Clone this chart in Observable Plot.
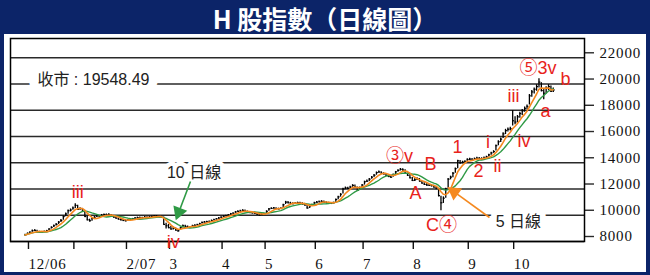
<!DOCTYPE html>
<html><head><meta charset="utf-8">
<script src="https://cdn.jsdelivr.net/npm/d3@7"></script>
<script src="https://cdn.jsdelivr.net/npm/@observablehq/plot@0.6"></script>
<style>
html,body{margin:0;padding:0;background:#0c2468;}
#wrap{width:650px;height:275px;background:#0c2468;position:relative;overflow:hidden;}
#title{height:34px;line-height:34px;text-align:center;color:#fff;font:bold 25px "Noto Sans CJK TC","Noto Sans CJK SC",sans-serif;}
#chart{position:absolute;left:4px;top:34px;width:642px;height:238px;background:#fff;}
</style></head><body>
<div id="wrap"><div id="title">H 股指數（日線圖）</div><div id="chart"></div></div>
<script>
// Daily H-share index bars, 30 Nov 2006 (day -1) to 26 Oct 2007 (day 220); day 0 = 1 Dec 2006
const firstDay = -1;
const close = [
 8500,
 8620,8700,8820,8850,8760,8700,8730,8760,8820,8950,9080,9200,9300,9480,9600,9900,10100,10350,10400,
 10550,10750,10450,10500,10300,9900,9650,9580,9750,9850,9950,9900,10000,10050,10020,10060,9950,9850,9780,9700,9650,9600,
 9580,9620,9680,9720,9780,9820,9800,9810,9850,9830,9860,9900,9950,9920,9880,9850,9300,9200,
 9050,8950,9000,8870,8820,9050,9200,9150,9080,9100,9200,9230,9280,9350,9450,9480,9500,9530,9600,9650,9720,9780,
 9850,9930,9950,10020,10100,10150,10250,10290,10320,10370,10300,10230,10200,10180,10150,10080,10020,10060,
 10120,10300,10480,10520,10550,10500,10480,10520,10800,11000,10950,10900,10880,10920,10950,10920,10850,10780,10550,10650,10800,
 10950,11000,11020,11060,11000,10950,10930,10900,10950,11200,11400,11600,12000,12080,12050,12150,12270,12150,11900,12100,
 12300,12550,12600,12750,12900,13050,13250,13300,13200,13150,13050,12950,12900,13100,13300,13420,13500,13450,13200,13050,12850,
 12650,12700,12780,12600,12450,12350,12300,12280,12250,12150,12100,11500,10950,11300,12000,12750,12900,13200,13550,14150,14000,14050,14100,
 14250,14280,14200,14300,14350,14320,14300,14380,14450,14600,14750,14850,15300,15600,15800,16200,16450,16550,16600,
 17200,17100,17500,17750,17950,18150,18300,19100,19400,19600,19800,20150,19500,19300,19700,19800,19450,19548.49
];
const high = [
 8560,
 8650,8740,8880,8900,8860,8780,8770,8800,8850,8980,9120,9260,9380,9520,9680,9950,10180,10400,10480,
 10620,10880,10760,10580,10520,10300,9920,9700,9800,9900,10000,9990,10060,10100,10090,10110,10060,9960,9880,9800,9740,9690,
 9660,9680,9720,9760,9820,9860,9870,9850,9900,9890,9910,9940,9990,9980,9950,9920,9860,9400,
 9300,9150,9080,9020,8920,9100,9250,9230,9180,9150,9240,9280,9320,9390,9480,9530,9550,9570,9640,9700,9760,9820,
 9890,9960,10000,10060,10140,10200,10290,10340,10380,10420,10400,10320,10280,10240,10230,10180,10100,10110,
 10160,10340,10520,10580,10600,10580,10540,10570,10840,11060,11040,10990,10950,10970,11000,10990,10950,10880,10800,10700,10840,
 10990,11050,11080,11110,11080,11030,10990,10970,11000,11240,11450,11650,12060,12150,12140,12210,12330,12300,12160,12150,
 12350,12600,12680,12800,12960,13100,13300,13380,13320,13240,13170,13080,12990,13150,13340,13470,13560,13540,13460,13220,13080,
 12880,12780,12850,12800,12620,12480,12400,12350,12330,12290,12200,12050,11450,11400,12050,12800,12980,13250,13600,14200,14180,14120,14160,
 14300,14350,14320,14360,14420,14400,14380,14430,14500,14650,14800,14920,15360,15680,15880,16280,16550,16650,16700,
 17990,17500,17600,17850,18050,18250,18400,19200,19500,19700,19950,20400,20100,19600,19800,19950,19850,19700
];
const low = [
 8420,
 8480,8600,8700,8780,8720,8660,8650,8690,8740,8820,8950,9070,9180,9300,9450,9620,9880,10080,10250,
 10380,10520,10400,10380,10250,9850,9580,9480,9550,9700,9820,9850,9880,9960,9970,9980,9900,9800,9720,9650,9580,9540,
 9500,9540,9590,9640,9690,9740,9750,9740,9790,9780,9800,9830,9870,9860,9830,9790,9250,8950,
 8980,8880,8880,8800,8700,8850,9020,9080,9030,9020,9090,9160,9200,9260,9340,9410,9430,9460,9510,9580,9640,9700,
 9760,9840,9880,9930,10010,10080,10150,10220,10250,10280,10250,10180,10140,10100,10090,10020,9950,9980,
 10030,10140,10300,10440,10470,10440,10420,10440,10540,10820,10880,10840,10810,10840,10870,10860,10790,10700,10480,10520,10660,
 10820,10920,10960,10980,10940,10890,10860,10840,10870,10960,11180,11380,11620,11950,11970,12030,12130,12080,11820,11900,
 12100,12300,12500,12580,12740,12880,13050,13200,13140,13080,12980,12880,12820,12900,13100,13280,13380,13360,13140,12960,12780,
 12580,12580,12650,12540,12380,12280,12220,12200,12160,12080,11950,11400,10350,10900,11300,12050,12700,12850,13200,13550,13880,13920,13980,
 14080,14180,14120,14180,14250,14240,14210,14270,14330,14440,14580,14720,14900,15300,15550,15850,16150,16350,16420,
 16800,16900,17050,17400,17600,17850,18050,18400,19000,19250,19450,19700,19400,18800,19250,19500,19350,19350
];

// Axis ticks: first trading day of each month (day index) and labels
const monthTicks  = [0, 19, 41, 59, 81, 99, 120, 140, 161, 184, 203];
const monthLabels = ["12/06", "", "2/07", "3", "4", "5", "6", "7", "8", "9", "10"];
const yTicks = [8000, 10000, 12000, 14000, 16000, 18000, 20000, 22000];

// Elliott-wave labels (red)
const waveLabels  = ["iii", "iv", "③v", "A", "B", "C④", "1", "2", "i", "ii", "iii", "iv", "⑤3v", "a", "b"];
const waveAtDay   = [21, 61, 155.6, 162.3, 168.6, 173.2, 179.9, 188.7, 192.7, 196.7, 203.3, 207.7, 213.6, 216.7, 225.1];
const waveAtLevel = [11730, 7960, 14520, 11660, 13870, 9260, 15160, 13330, 15580, 13720, 19050, 15620, 21220, 17910, 20380];

// Black notes
const noteLabels  = ["收市 : 19548.49", "10 日線", "5 日線"];
const noteAtDay   = [27.6, 69.7, 205.4];
const noteAtLevel = [20340, 13220, 9490];

// Pointer arrows (10-day line, 5-day line)
const arrowColors    = ["#2f9a45", "#f5891f"];
const arrowFromDay   = [68.2, 193.3];
const arrowFromLevel = [12572, 9829];
const arrowToDay     = [62.8, 177.4];
const arrowToLevel   = [9981, 11924];

const W = 642, H = 238, mL = 6, mR = 62, mT = 4, mB = 31;
const xDomain = [-7.1, 233.05], yDomain = [8000, 23470];

const rows = close.map((c, k) => ({i: firstDay + k, c, h: high[k], l: low[k]}));
const waves = waveLabels.map((t, k) => ({t, x: waveAtDay[k], y: waveAtLevel[k]}));
const notes = noteLabels.map((t, k) => ({t, x: noteAtDay[k], y: noteAtLevel[k]}));
const arrows = arrowColors.map((c, k) => ({c, x1: arrowFromDay[k], y1: arrowFromLevel[k], x2: arrowToDay[k], y2: arrowToLevel[k]}));
const labelOf = new Map(monthTicks.map((t, k) => [t, monthLabels[k]]));

// filled arrowheads: orient triangles along each arrow in screen space
let heads = [];
try {
  const sx = Plot.scale({x: {type: "linear", domain: xDomain, range: [mL, W - mR]}});
  const sy = Plot.scale({y: {type: "linear", domain: yDomain, range: [H - mB, mT]}});
  heads = arrows.map(a => {
    const X1 = sx.apply(a.x1), Y1 = sy.apply(a.y1), X2 = sx.apply(a.x2), Y2 = sy.apply(a.y2);
    const L = Math.hypot(X2 - X1, Y2 - Y1), ux = (X2 - X1) / L, uy = (Y2 - Y1) / L;
    return {c: a.c, x: sx.invert(X2 - ux * 3.5), y: sy.invert(Y2 - uy * 3.5), xe: sx.invert(X2 - ux * 5), ye: sy.invert(Y2 - uy * 5), rot: Math.atan2(ux, -uy) * 180 / Math.PI};
  });
} catch (e) { heads = []; }

const sans = "'Liberation Sans', Arial, 'Noto Sans CJK TC', sans-serif";
const red = "#e8231b";

const arrowMarks = heads.length
  ? [Plot.link(arrows, {x1: "x1", y1: "y1", x2: (d, k) => heads[k].xe, y2: (d, k) => heads[k].ye, stroke: "c", strokeWidth: 1.6}),
     Plot.dot(heads, {x: "x", y: "y", fill: "c", symbol: "triangle", r: 5.5, rotate: "rot"})]
  : [Plot.arrow(arrows, {x1: "x1", y1: "y1", x2: "x2", y2: "y2", stroke: "c", strokeWidth: 1.6, headLength: 9, headAngle: 55})];

const plot = Plot.plot({
  width: W, height: H,
  marginLeft: mL, marginRight: mR, marginTop: mT, marginBottom: mB,
  x: {type: "linear", domain: xDomain, label: null},
  y: {domain: yDomain, label: null},
  style: {background: "white", fontFamily: "'Liberation Serif', 'Times New Roman', serif", fontSize: "15px", color: "#111", overflow: "visible"},
  marks: [
    Plot.ruleY(yTicks, {stroke: "#2a2a2a", strokeWidth: 1.4}),
    Plot.axisY(yTicks, {anchor: "right", tickSize: 9, tickPadding: 6, dy: -5, stroke: "#2a2a2a", strokeWidth: 1.4, fontSize: 15, label: null, tickFormat: d => String(d)}),
    Plot.axisX(monthTicks, {anchor: "bottom", tickSize: 8, tickPadding: 9, textAnchor: "start", dx: 1, strokeWidth: 1.4, fontSize: 15, label: null, tickFormat: d => labelOf.get(d)}),
    Plot.text(notes, {filter: (d, k) => k === 0, x: "x", y: "y", text: "t", fontFamily: sans, fontSize: 16, fill: "#222", stroke: "white", strokeWidth: 18}),
    Plot.text(notes, {filter: (d, k) => k === 1, x: "x", y: "y", text: "t", fontFamily: sans, fontSize: 16, fill: "#222", stroke: "white", strokeWidth: 9}),
    Plot.text(notes, {filter: (d, k) => k === 2, x: "x", y: "y", text: "t", fontFamily: sans, fontSize: 16, fill: "#222", stroke: "white", strokeWidth: 12}),
    Plot.ruleX(rows, {x: "i", y1: "l", y2: "h", stroke: "#000", strokeWidth: 1.3}),
    Plot.ruleY(rows, {y: "c", x1: "i", x2: d => d.i + 0.8, stroke: "#000", strokeWidth: 1.2}),
    Plot.lineY(rows, Plot.windowY({k: 10, anchor: "end"}, {x: "i", y: "c", stroke: "#2f9a45", strokeWidth: 1.4})),
    Plot.lineY(rows, Plot.windowY({k: 5, anchor: "end"}, {x: "i", y: "c", stroke: "#f5891f", strokeWidth: 1.6})),
    ...arrowMarks,
    Plot.frame({stroke: "#000", strokeWidth: 1.5}),
    Plot.text(waves, {x: "x", y: "y", text: "t", fontFamily: sans, fontSize: 18, fill: red})
  ]
});
d3.select(plot).selectAll('g[aria-label="y-axis tick label"] text, g[aria-label="x-axis tick label"] text').attr("letter-spacing", "0.8");
document.getElementById("chart").appendChild(plot);
</script>
</body></html>
